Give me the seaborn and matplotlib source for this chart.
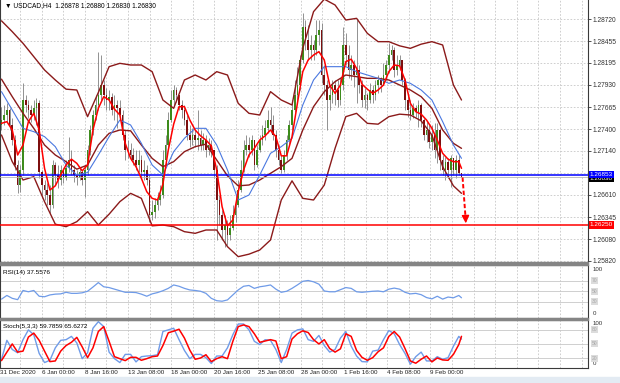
"""
USDCAD H4 — MetaTrader-style candlestick chart with Bollinger bands,
moving averages, RSI(14) and Stochastic(5,3,3) sub-windows.
"""

import numpy as np
import matplotlib
matplotlib.use("Agg")
import matplotlib.pyplot as plt
import matplotlib.transforms as mtransforms
from matplotlib.patches import Rectangle
import seaborn as sns

# ── Global style ──────────────────────────────────────────────────────────────
sns.set_style("white")
plt.rcParams.update(
    {
        "font.family": ["Liberation Sans", "DejaVu Sans"],
        "font.size": 4.8,
        "axes.unicode_minus": False,
    }
)

# ── Data ──────────────────────────────────────────────────────────────────────
TITLE_MAIN = "\u25bc USDCAD,H4  1.26878 1.26880 1.26830 1.26830"
TITLE_RSI = "RSI(14) 37.5576"
TITLE_STOCH = "Stoch(5,3,3) 59.7859 65.6272"

FIRST_OPEN = 1.2745

CLOSE = [
    1.2751, 1.2757, 1.2763, 1.2745, 1.2727, 1.2697, 1.2673, 1.2691, 1.2775, 1.2769,
    1.2763, 1.2757, 1.2765, 1.2771, 1.2689, 1.2673, 1.2667, 1.2661, 1.2649, 1.2697,
    1.2685, 1.2679, 1.2691, 1.2681, 1.2693, 1.2703, 1.2691, 1.2685, 1.2681, 1.2689,
    1.2679, 1.2691, 1.2715, 1.2739, 1.2757, 1.2769, 1.2781, 1.2793, 1.2781, 1.2775,
    1.2779, 1.2763, 1.2769, 1.2765, 1.2757, 1.2733, 1.2715, 1.2715, 1.2709, 1.2703,
    1.2697, 1.2703, 1.2689, 1.2691, 1.2679, 1.2637, 1.2641, 1.2649, 1.2655, 1.2661,
    1.2703, 1.2721, 1.2751, 1.2775, 1.2787, 1.2781, 1.2769, 1.2763, 1.2751, 1.2733,
    1.2727, 1.2733, 1.2727, 1.2729, 1.2721, 1.2727, 1.2715, 1.2721, 1.2715, 1.2691,
    1.2655, 1.2637, 1.2619, 1.2625, 1.2613, 1.2621, 1.2637, 1.2649, 1.2667, 1.2691,
    1.2715, 1.2721, 1.2715, 1.2727, 1.2697, 1.2715, 1.2727, 1.2733, 1.2741, 1.2751,
    1.2745, 1.2733, 1.2715, 1.2703, 1.2691, 1.2709, 1.2727, 1.2745, 1.2763, 1.2781,
    1.2793, 1.2823, 1.2863, 1.2847, 1.2835, 1.2841, 1.2835, 1.2853, 1.2859, 1.2805,
    1.2793, 1.2775, 1.2781, 1.2793, 1.2787, 1.2775, 1.2793, 1.2841, 1.2829, 1.2811,
    1.2817, 1.2805, 1.2811, 1.2793, 1.2775, 1.2781, 1.2775, 1.2787, 1.2781, 1.2793,
    1.2799, 1.2793, 1.2805, 1.2817, 1.2829, 1.2835, 1.2811, 1.2817, 1.2823, 1.2799,
    1.2775, 1.2763, 1.2757, 1.2765, 1.2761, 1.2769, 1.2751, 1.2733, 1.2739, 1.2725,
    1.2733, 1.2715, 1.2739, 1.2703, 1.2691, 1.2701, 1.2691, 1.2705, 1.2691, 1.2703,
    1.26878, 1.26830,
]

HIGH = [
    1.2767, 1.2769, 1.2771, 1.2765, 1.2753, 1.2733, 1.2703, 1.2697, 1.2795, 1.2781,
    1.2775, 1.2769, 1.2775, 1.2777, 1.2775, 1.2691, 1.2679, 1.2675, 1.2673, 1.2703,
    1.2701, 1.2697, 1.2697, 1.2693, 1.2703, 1.2731, 1.2715, 1.2697, 1.2691, 1.2693,
    1.2691, 1.2697, 1.2721, 1.2745, 1.2763, 1.2781, 1.2833, 1.2829, 1.2799, 1.2789,
    1.2787, 1.2783, 1.2781, 1.2775, 1.2775, 1.2763, 1.2739, 1.2727, 1.2723, 1.2717,
    1.2715, 1.2715, 1.2709, 1.2703, 1.2697, 1.2685, 1.2655, 1.2657, 1.2665, 1.2673,
    1.2715, 1.2733, 1.2761, 1.2787, 1.2793, 1.2791, 1.2781, 1.2775, 1.2769, 1.2757,
    1.2745, 1.2741, 1.2739, 1.2763, 1.2739, 1.2735, 1.2733, 1.2729, 1.2727, 1.2715,
    1.2697, 1.2661, 1.2643, 1.2637, 1.2631, 1.2637, 1.2649, 1.2661, 1.2679, 1.2703,
    1.2727, 1.2733, 1.2731, 1.2733, 1.2727, 1.2721, 1.2733, 1.2745, 1.2751, 1.2763,
    1.2767, 1.2757, 1.2739, 1.2721, 1.2709, 1.2715, 1.2733, 1.2751, 1.2775, 1.2799,
    1.2815, 1.2829, 1.2879, 1.2871, 1.2865, 1.2853, 1.2847, 1.2871, 1.2871, 1.2867,
    1.2817, 1.2799, 1.2793, 1.2799, 1.2799, 1.2799, 1.2801, 1.2863, 1.2855, 1.2841,
    1.2829, 1.2823, 1.2871, 1.2817, 1.2799, 1.2789, 1.2783, 1.2795, 1.2793, 1.2799,
    1.2805, 1.2803, 1.2819, 1.2823, 1.2843, 1.2841, 1.2839, 1.2829, 1.2829, 1.2823,
    1.2801, 1.2783, 1.2775, 1.2771, 1.2769, 1.2775, 1.2771, 1.2753, 1.2749, 1.2745,
    1.2745, 1.2747, 1.2747, 1.2741, 1.2709, 1.2707, 1.2705, 1.2709, 1.2705, 1.2709,
    1.2709, 1.26880,
]

LOW = [
    1.2739, 1.2745, 1.2749, 1.2739, 1.2721, 1.2691, 1.2663, 1.2665, 1.2685, 1.2761,
    1.2753, 1.2749, 1.2751, 1.2745, 1.2681, 1.2661, 1.2655, 1.2649, 1.2639, 1.2645,
    1.2673, 1.2669, 1.2673, 1.2675, 1.2679, 1.2689, 1.2685, 1.2677, 1.2673, 1.2679,
    1.2673, 1.2659, 1.2685, 1.2709, 1.2733, 1.2751, 1.2763, 1.2775, 1.2769, 1.2763,
    1.2763, 1.2757, 1.2751, 1.2741, 1.2751, 1.2727, 1.2703, 1.2705, 1.2703, 1.2697,
    1.2691, 1.2689, 1.2681, 1.2679, 1.2673, 1.2629, 1.2631, 1.2633, 1.2643, 1.2649,
    1.2657, 1.2697, 1.2717, 1.2749, 1.2769, 1.2773, 1.2763, 1.2753, 1.2745, 1.2727,
    1.2719, 1.2721, 1.2719, 1.2715, 1.2715, 1.2715, 1.2707, 1.2709, 1.2707, 1.2681,
    1.2607, 1.2625, 1.2607, 1.2599, 1.2601, 1.2607, 1.2619, 1.2629, 1.2647, 1.2665,
    1.2689, 1.2709, 1.2707, 1.2709, 1.2691, 1.2695, 1.2713, 1.2721, 1.2727, 1.2735,
    1.2735, 1.2727, 1.2707, 1.2697, 1.2687, 1.2689, 1.2703, 1.2721, 1.2739, 1.2761,
    1.2775, 1.2787, 1.2819, 1.2835, 1.2823, 1.2823, 1.2823, 1.2829, 1.2841, 1.2795,
    1.2781, 1.2739, 1.2763, 1.2771, 1.2769, 1.2767, 1.2769, 1.2787, 1.2817, 1.2801,
    1.2799, 1.2791, 1.2771, 1.2783, 1.2767, 1.2765, 1.2763, 1.2771, 1.2771, 1.2775,
    1.2783, 1.2785, 1.2793, 1.2799, 1.2807, 1.2823, 1.2803, 1.2805, 1.2811, 1.2793,
    1.2763, 1.2755, 1.2751, 1.2753, 1.2755, 1.2743, 1.2743, 1.2727, 1.2725, 1.2717,
    1.2715, 1.2705, 1.2699, 1.2691, 1.2685, 1.2679, 1.2681, 1.2671, 1.2685, 1.2681,
    1.2685, 1.26830,
]

# fast MA (red), sampled every 2 bars + last bar
MA_FAST = [
    1.2747, 1.2749, 1.2739, 1.2709, 1.2721, 1.2749, 1.2759, 1.2739, 1.2693, 1.2667,
    1.2672, 1.2685, 1.2697, 1.2704, 1.2699, 1.2690, 1.2697, 1.2739, 1.2765, 1.2779,
    1.2775, 1.2764, 1.2757, 1.2723, 1.2705, 1.2695, 1.2681, 1.2665, 1.2657, 1.2655,
    1.2674, 1.2715, 1.2746, 1.2767, 1.2767, 1.2751, 1.2739, 1.2732, 1.2727, 1.2720,
    1.2691, 1.2647, 1.2624, 1.2631, 1.2665, 1.2691, 1.2709, 1.2717, 1.2727, 1.2732,
    1.2739, 1.2731, 1.2708, 1.2708, 1.2731, 1.2771, 1.2809, 1.2823, 1.2829, 1.2833,
    1.2823, 1.2793, 1.2783, 1.2793, 1.2821, 1.2824, 1.2813, 1.2794, 1.2788, 1.2783,
    1.2787, 1.2793, 1.2809, 1.2817, 1.2816, 1.2799, 1.2771, 1.2761, 1.2758, 1.2751,
    1.2741, 1.2727, 1.2711, 1.2704, 1.2701, 1.2701, 1.2693,
]

# slow MA (blue) and Bollinger bands (brown), sampled every 4 bars + last bar
MA_SLOW = [
    1.2785, 1.2763, 1.2741, 1.2737, 1.2731, 1.2719, 1.2697, 1.2685, 1.2688, 1.2709,
    1.2731, 1.2751, 1.2745, 1.2723, 1.2697, 1.2685, 1.2713, 1.2729, 1.2741, 1.2741,
    1.2721, 1.2691, 1.2655, 1.2661, 1.2685, 1.2711, 1.2719, 1.2729, 1.2769, 1.2799,
    1.2815, 1.2815, 1.2815, 1.2809, 1.2805, 1.2801, 1.2795, 1.2799, 1.2795, 1.2787,
    1.2775, 1.2749, 1.2721, 1.2705,
]
BB_UPPER = [
    1.2870, 1.2857, 1.2843, 1.2827, 1.2811, 1.2799, 1.2788, 1.2787, 1.2755, 1.2784,
    1.2815, 1.2819, 1.2817, 1.2817, 1.2809, 1.2775, 1.2765, 1.2799, 1.2805, 1.2799,
    1.2809, 1.2805, 1.2771, 1.2759, 1.2757, 1.2785, 1.2775, 1.2769, 1.2837, 1.2881,
    1.2896, 1.2889, 1.2871, 1.2873, 1.2855, 1.2845, 1.2845, 1.2840, 1.2837, 1.2842,
    1.2845, 1.2841, 1.2793, 1.2775,
]
BB_MIDDLE = [
    1.2800, 1.2779, 1.2759, 1.2741, 1.2721, 1.2709, 1.2701, 1.2692, 1.2697, 1.2721,
    1.2735, 1.2739, 1.2738, 1.2721, 1.2705, 1.2695, 1.2701, 1.2713, 1.2719, 1.2722,
    1.2703, 1.2684, 1.2672, 1.2673, 1.2679, 1.2687, 1.2695, 1.2705, 1.2739, 1.2767,
    1.2785, 1.2797, 1.2805, 1.2803, 1.2801, 1.2801, 1.2799, 1.2793, 1.2787, 1.2779,
    1.2765, 1.2739, 1.2723, 1.2717,
]
BB_LOWER = [
    1.2733, 1.2701, 1.2679, 1.2683, 1.2653, 1.2626, 1.2623, 1.2629, 1.2641, 1.2625,
    1.2638, 1.2653, 1.2663, 1.2657, 1.2624, 1.2625, 1.2623, 1.2617, 1.2615, 1.2619,
    1.2619, 1.2599, 1.2587, 1.2590, 1.2595, 1.2607, 1.2655, 1.2678, 1.2657, 1.2655,
    1.2673, 1.2717, 1.2755, 1.2759, 1.2747, 1.2746, 1.2755, 1.2758, 1.2757, 1.2750,
    1.2733, 1.2695, 1.2672, 1.2663,
]

# RSI(14), every 2 bars + last bar
RSI = [
    35, 42, 36.5, 34, 51.5, 49, 51.5, 40.5, 39.5, 43,
    44.5, 45, 48, 46, 46, 47, 50, 58, 66.5, 58.5,
    57, 54, 51, 48, 48, 47.5, 44.5, 40.5, 45, 47.5,
    51, 55.5, 62, 59.5, 55.5, 52.5, 51.5, 50, 46, 36.5,
    32, 31, 33.5, 43, 52.5, 59.5, 61, 55.5, 58.5, 60,
    62, 54, 48, 50, 55.5, 62, 69, 70.5, 68, 63.5,
    50.5, 49, 49, 53, 57, 55.5, 49, 48, 49, 50,
    50.5, 49, 54, 56, 54, 48, 45, 46, 43.5, 38,
    35.5, 40.5, 35, 39, 37.5, 42, 37.5576,
]

# Stochastic %K (blue) and %D (red), every 2 bars + last bar
STOCH_K = [
    17.3, 57.2, 37.9, 31, 58.6, 79.2, 68.9, 29.7, 10.4, 15.2,
    41.4, 57.2, 58.6, 65.5, 51.7, 18.6, 31, 82.7, 96.5, 86.1,
    32.4, 18.6, 10.4, 27.6, 27.6, 11.8, 22.8, 24.2, 24.8, 26.9,
    75.8, 79.2, 82.7, 58.6, 35.9, 18.6, 27.6, 27.6, 20.7, 8.3,
    24.2, 24.2, 41.4, 68.9, 91.6, 91.6, 79.2, 55.1, 48.3, 58.6,
    57.2, 37.9, 10.4, 37.9, 72.4, 79.2, 81.3, 58.6, 55.1, 67.5,
    46.2, 32.4, 37.9, 62, 75.8, 44.8, 24.2, 12.4, 11.8, 34.5,
    36.6, 58.6, 77.9, 71, 48.3, 29.7, 6.9, 22.8, 32.4, 13.8,
    13.8, 22.8, 17.3, 20.7, 44.8, 65.5, 59.7859,
]
STOCH_D = [
    14.5, 32.4, 49.6, 32.4, 34.5, 64.1, 72.4, 57.2, 34.5, 12.4,
    13.8, 34.5, 46.2, 53.1, 63.4, 43.4, 20.7, 41.4, 75.8, 86.1,
    55.1, 22.8, 18.6, 14.5, 21.4, 21.4, 15.2, 18.6, 22.8, 24.2,
    46.2, 73.1, 76.5, 80.6, 62, 36.6, 17.3, 20, 26.9, 12.4,
    18.6, 22.8, 18.6, 55.1, 86.1, 89.6, 86.1, 71, 53.1, 55.8,
    58.6, 55.8, 18.6, 22.8, 60, 71, 77.2, 73.7, 58.6, 49.6,
    58.6, 40, 32.4, 39.3, 71, 65.5, 35.9, 21.4, 15.2, 20.7,
    33.1, 41.4, 65.5, 75.8, 64.1, 40, 13.8, 9, 17.3, 24.2,
    11.8, 20, 15.9, 15.2, 27.6, 48.3, 65.6272,
]

LEVEL_BLUE = 1.26853
LEVEL_RED = 1.26250

PRICE_LABELS = [1.28720, 1.28455, 1.28195, 1.27930, 1.27665, 1.27400,
                1.27140, 1.26610, 1.26345, 1.26080, 1.25820]
PRICE_GRID = PRICE_LABELS + [1.26875]

DATE_LABELS = ["31 Dec 2020", "6 Jan 00:00", "8 Jan 16:00", "13 Jan 08:00",
               "18 Jan 00:00", "20 Jan 16:00", "25 Jan 08:00", "28 Jan 00:00",
               "1 Feb 16:00", "4 Feb 08:00", "9 Feb 00:00"]

RSI_LEVELS = [70, 50, 30]
STOCH_LEVELS = [80, 50, 20]

# ── Colours ───────────────────────────────────────────────────────────────────
BULL = "#3d8b1c"
BEAR = "#7d0f0f"
WICK = "#808080"
BB_COLOR = "#8b1a1a"
RED = "#ff0000"
BLUE_MA = "#4a78e0"
LIGHT_BLUE = "#6f9be8"
GRID = "#c6c6c6"
FRAME = "#3a3a3a"
SEP = "#858585"

# ── Layout (pixels of a 620x383 canvas) ──────────────────────────────────────
W, H = 620, 383
PLOT_RIGHT = 588
BAR_PX, BAR0_PX = 2.69, 1.5
X_LEFT = -BAR0_PX / BAR_PX
X_RIGHT = (PLOT_RIGHT - BAR0_PX) / BAR_PX
GRID_X = (20 + 21.6 * np.arange(27) - BAR0_PX) / BAR_PX

fig = plt.figure(figsize=(W / 100, H / 100), dpi=100)
fig.patch.set_facecolor("white")


def panel(top, bottom):
    return fig.add_axes([0, 1 - bottom / H, PLOT_RIGHT / W, (bottom - top) / H])


ax = panel(0, 262)
ax_rsi = panel(265, 317.5)
ax_st = panel(320, 367.5)

n_bars = len(CLOSE)
bars = np.arange(n_bars)
even_bars = np.r_[np.arange(0, n_bars, 2), n_bars - 1]
quad_bars = np.r_[np.arange(0, n_bars, 4), n_bars - 1]

# ── Main window ──────────────────────────────────────────────────────────────
for v in PRICE_GRID:
    ax.axhline(v, color=GRID, lw=0.6, ls=(0, (2, 2)), zorder=0)
for a in (ax, ax_rsi, ax_st):
    for gx in GRID_X:
        a.axvline(gx, color=GRID, lw=0.6, ls=(0, (2, 2)), zorder=0)

closes = np.array(CLOSE)
opens = np.r_[FIRST_OPEN, closes[:-1]]
body_lo = np.minimum(opens, closes)
body_hi = np.maximum(opens, closes)
up = closes >= opens
ax.vlines(bars, np.minimum(LOW, body_lo), np.maximum(HIGH, body_hi),
          color=WICK, lw=0.6, zorder=2)
heights = np.maximum(body_hi - body_lo, 0.00004)
ax.bar(bars[up], heights[up], bottom=body_lo[up], width=0.62, color=BULL, lw=0, zorder=2.5)
ax.bar(bars[~up], heights[~up], bottom=body_lo[~up], width=0.62, color=BEAR, lw=0, zorder=2.5)

for band in (BB_UPPER, BB_MIDDLE, BB_LOWER):
    sns.lineplot(x=quad_bars, y=band, ax=ax, color=BB_COLOR, linewidth=1.0, zorder=3)
sns.lineplot(x=quad_bars, y=MA_SLOW, ax=ax, color=BLUE_MA, linewidth=0.8, zorder=4)
sns.lineplot(x=even_bars, y=MA_FAST, ax=ax, color=RED, linewidth=1.1, zorder=4)

ax.axhline(CLOSE[-1], color="#b4b4b4", lw=0.6, zorder=3)
ax.axhline(LEVEL_BLUE, color="#0000ff", lw=1.1, zorder=3.5)
ax.axhline(LEVEL_RED, color=RED, lw=1.1, zorder=3.5)

# projected move arrow from the last bar down to the red level
last = n_bars - 1
ax.plot([last + 0.4, last + 1.5], [LOW[-1] - 0.0001, LEVEL_RED + 0.0009],
        color=RED, lw=1.4, ls=(0, (2.2, 1.2)), zorder=6)
ax.annotate("", xy=(last + 1.6, LEVEL_RED + 0.0002), xytext=(last + 1.5, LEVEL_RED + 0.0010),
            arrowprops=dict(arrowstyle="-|>,head_length=0.45,head_width=0.22", color=RED,
                            lw=1.0, shrinkA=0, shrinkB=0, mutation_scale=10), zorder=6)

ax.set_xlim(X_LEFT, X_RIGHT)
ax.set_ylim(1.25806, 1.2895)
ax.set_xticks([])
ax.yaxis.tick_right()
ax.set_yticks(PRICE_LABELS)
ax.set_yticklabels([f"{v:.5f}" for v in PRICE_LABELS])
ax.tick_params(axis="y", length=2, width=0.6, pad=1.5, labelsize=4.8, colors="#333333")
ax.set_xlabel("")
ax.set_ylabel("")

ax.text(5 / PLOT_RIGHT, 1 - 6 / 262, TITLE_MAIN, transform=ax.transAxes,
        ha="left", va="center", fontsize=4.8, color="black")

right = mtransforms.blended_transform_factory(ax.transAxes, ax.transData)
ax.text(1.003, CLOSE[-1] - 0.00022, f"{CLOSE[-1]:.5f}", transform=right, ha="left", va="center",
        fontsize=4.6, color="white", zorder=7,
        bbox=dict(boxstyle="square,pad=0.18", fc="black", ec="none"))
ax.text(1.003, LEVEL_BLUE, f"{LEVEL_BLUE:.5f}", transform=right, ha="left", va="center",
        fontsize=4.6, color="white", zorder=8,
        bbox=dict(boxstyle="square,pad=0.18", fc="#0000ff", ec="none"))
ax.text(1.003, LEVEL_RED, f"{LEVEL_RED:.5f}", transform=right, ha="left", va="center",
        fontsize=4.6, color="white", zorder=8,
        bbox=dict(boxstyle="square,pad=0.18", fc=RED, ec="none"))

# ── RSI window ───────────────────────────────────────────────────────────────
for lv in RSI_LEVELS:
    ax_rsi.axhline(lv, color="#c8c8c8", lw=0.6, zorder=1)
sns.lineplot(x=even_bars, y=RSI, ax=ax_rsi, color=LIGHT_BLUE, linewidth=0.9, zorder=3)
ax_rsi.set_ylim(0, 100)
ax_rsi.text(3 / PLOT_RIGHT, 0.86, TITLE_RSI, transform=ax_rsi.transAxes,
            ha="left", va="center", fontsize=4.6, color="black")

# ── Stochastic window ────────────────────────────────────────────────────────
for lv in STOCH_LEVELS:
    ax_st.axhline(lv, color="#c8c8c8", lw=0.6, zorder=1)
sns.lineplot(x=even_bars, y=STOCH_K, ax=ax_st, color=LIGHT_BLUE, linewidth=1.0, zorder=3)
sns.lineplot(x=even_bars, y=STOCH_D, ax=ax_st, color=RED, linewidth=1.1, zorder=4)
ax_st.set_ylim(0, 100)
ax_st.text(3 / PLOT_RIGHT, 0.86, TITLE_STOCH, transform=ax_st.transAxes,
           ha="left", va="center", fontsize=4.6, color="black")

for a, levels in ((ax_rsi, RSI_LEVELS), (ax_st, STOCH_LEVELS)):
    a.set_xlim(X_LEFT, X_RIGHT)
    a.set_xticks([])
    a.set_yticks([])
    a.set_xlabel("")
    a.set_ylabel("")
    tr = mtransforms.blended_transform_factory(a.transAxes, a.transData)
    a.text(1.008, 97, "100", transform=tr, ha="left", va="top", fontsize=4.4, color="#333333")
    a.text(1.008, 3, "0", transform=tr, ha="left", va="bottom", fontsize=4.4, color="#333333")
    for lv in levels:
        a.text(1.006, lv, str(lv), transform=tr, ha="left", va="center", fontsize=3.6,
               color="#a8a8a8", bbox=dict(boxstyle="square,pad=0.2", fc="#dcdcdc", ec="none"))

# date labels under the bottom window
date_x = [X_LEFT + 0.1] + list(GRID_X[1::2][:len(DATE_LABELS) - 1])
for x, lab in zip(date_x, DATE_LABELS):
    ax_st.text(x, -0.05, lab, transform=ax_st.get_xaxis_transform(),
               ha="left", va="top", fontsize=4.5, color="#222222")

# ── Frames and separators ────────────────────────────────────────────────────
for a in (ax, ax_rsi, ax_st):
    for side, sp in a.spines.items():
        sp.set_color(FRAME)
        sp.set_linewidth(0.8)
ax.spines["top"].set_visible(False)
ax.spines["bottom"].set_visible(False)

for top, bottom in ((262, 265), (317.5, 320)):
    fig.patches.append(Rectangle((0, 1 - bottom / H), PLOT_RIGHT / W, (bottom - top) / H,
                                 transform=fig.transFigure, color=SEP, zorder=5))
fig.patches.append(Rectangle((0, 0), 1, 6 / H, transform=fig.transFigure,
                             color="#e3ebf3", zorder=0))

fig.savefig("out.png", dpi=100)
plt.close(fig)
